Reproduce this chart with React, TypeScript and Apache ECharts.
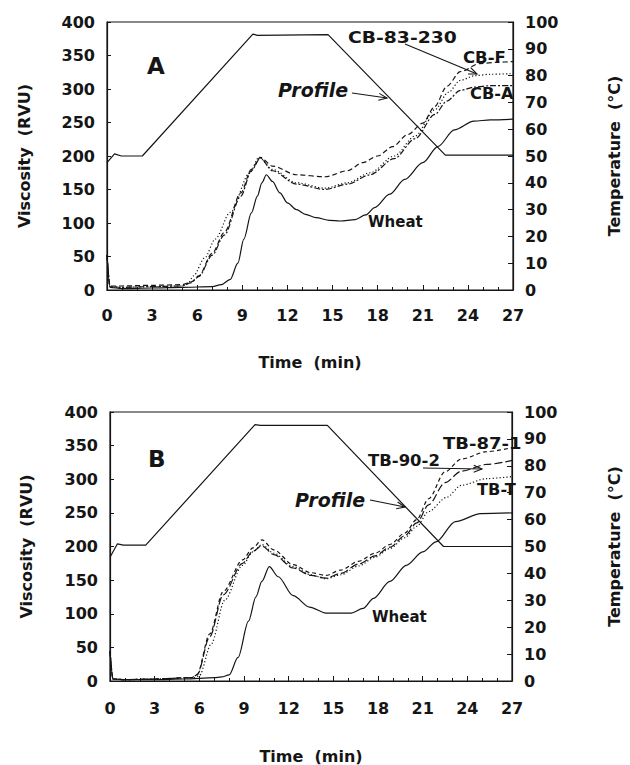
import React, { useEffect, useRef } from "react";
import * as echarts from "echarts";

// ---------- Tick labels ----------
const timeTicks = [0, 3, 6, 9, 12, 15, 18, 21, 24, 27];
const viscTicks = [0, 50, 100, 150, 200, 250, 300, 350, 400];
const tempTicks = [0, 10, 20, 30, 40, 50, 60, 70, 80, 90, 100];

// ---------- Panel A ----------
const profileA_t = [0, 0.5, 0.95, 2.35, 9.7, 10.0, 14.7, 22.5, 27];
const profileA_v = [47.5, 50.8, 50, 50, 95.5, 95, 95.3, 50.3, 50.3];

const wheatA_t = [0, 0.2, 1, 3, 5, 7, 7.6, 8.2, 8.7, 9.1, 9.6, 10, 10.3, 10.6, 11, 11.5, 12, 12.6, 13.2, 13.9, 14.8, 15.5, 16.5, 17.2, 17.8, 18.8, 19.8, 21, 22, 23.1, 24.4, 25.5, 27];
const wheatA_v = [52, 4, 2, 3, 4, 5, 8, 16, 40, 76, 115, 140, 160, 172, 162, 145, 130, 120, 113, 108, 104, 103, 105, 112, 123, 143, 165, 190, 214, 239, 252, 254, 255];

const cbF_t = [0, 0.2, 1, 3, 5, 5.6, 6.1, 7, 7.8, 8.9, 9.6, 10.2, 11, 12.6, 14.5, 16, 17, 18, 19, 20, 21, 21.8, 22.6, 23.5, 24.8, 26, 27];
const cbF_v = [52, 6, 6, 7, 8, 12, 21, 55, 86, 145, 180, 198, 185, 172, 169, 178, 190, 200, 214, 232, 249, 274, 304, 326, 338, 340, 341];

const cb83_t = [0, 0.2, 1, 3, 5, 5.4, 5.75, 6.5, 7.2, 8.2, 9.5, 10.1, 11, 12.6, 14.5, 16, 17.5, 19.1, 20.5, 21.8, 22.7, 23.5, 24.5, 25.5, 27];
const cb83_v = [52, 5, 4, 5, 6, 10, 21, 48, 76, 116, 175, 198, 180, 160, 152, 160, 175, 200, 230, 269, 295, 313, 320, 322, 323];

const cbA_t = [0, 0.2, 1, 3, 5, 5.6, 6.1, 7, 7.8, 8.9, 9.6, 10.2, 11, 12.6, 14.5, 16, 17.5, 19.1, 20.5, 21.8, 22.6, 23.5, 24.5, 25.5, 27];
const cbA_v = [52, 5, 4, 5, 6, 11, 20, 52, 82, 140, 178, 197, 178, 158, 150, 158, 172, 196, 226, 262, 282, 298, 303, 305, 305];

// ---------- Panel B ----------
const profileB_t = [0, 0.5, 0.9, 2.4, 9.74, 10.1, 14.6, 22.4, 27];
const profileB_v = [46, 51, 50.5, 50.5, 95.3, 95, 95, 50, 50];

const wheatB_t = [0, 0.2, 1, 3, 5, 7, 7.5, 8, 8.6, 9.3, 9.8, 10.2, 10.7, 11.3, 12.3, 13.4, 14.5, 16.2, 17, 17.7, 18.8, 19.9, 21, 21.9, 23.2, 24.9, 27];
const wheatB_v = [44, 3, 2, 2, 3, 5, 6, 9, 35, 89, 125, 148, 170, 155, 127, 110, 101, 101, 108, 123, 148, 172, 192, 207, 237, 249, 250];

const tb871_t = [0, 0.2, 1, 3, 5.5, 5.85, 6.7, 7.6, 8.9, 9.6, 10.2, 11, 12.3, 13.5, 14.5, 15.5, 16.7, 17.8, 18.8, 19.8, 20.6, 21.4, 22.5, 23.6, 25.3, 27];
const tb871_v = [44, 3, 2, 3, 5, 10, 70, 133, 180, 198, 210, 195, 173, 161, 157, 165, 178, 190, 203, 220, 240, 271, 311, 330, 341, 347];

const tb902_t = [0, 0.2, 1, 3, 5.5, 5.85, 6.7, 7.6, 8.9, 9.6, 10.2, 11, 12.3, 13.5, 14.5, 15.5, 16.7, 17.8, 18.8, 19.8, 20.6, 21.4, 22.5, 23.6, 25.3, 27];
const tb902_v = [44, 3, 2, 3, 5, 9, 66, 128, 175, 193, 201, 188, 168, 157, 153, 160, 174, 186, 199, 216, 235, 262, 295, 312, 322, 328];

const tbT_t = [0, 0.2, 1, 3, 5.7, 6.0, 6.8, 7.7, 8.9, 9.6, 10.2, 11, 12.3, 13.5, 14.5, 15.5, 16.7, 17.8, 18.8, 19.8, 20.6, 21.4, 22.6, 23.6, 25.3, 27];
const tbT_v = [44, 3, 2, 3, 5, 8, 55, 120, 172, 192, 203, 190, 170, 158, 152, 158, 171, 184, 197, 213, 230, 252, 273, 291, 301, 304];

// ---------- Styling ----------
const INK = "#151515";
const FONT = "'DejaVu Sans', 'Liberation Sans', Arial, sans-serif";

const pairs = (t: number[], v: number[]) => t.map((x, i) => [x, v[i]]);

function line(name: string, t: number[], v: number[], gi: number, yi: number, dash: any, smooth = true, width = 1.2) {
  return {
    type: "line",
    name,
    data: pairs(t, v),
    xAxisIndex: gi,
    yAxisIndex: yi,
    symbol: "none",
    showSymbol: false,
    smooth: smooth ? 0.3 : false,
    smoothMonotone: "x",
    silent: true,
    lineStyle: { color: INK, width, type: dash },
    z: 3,
  };
}

function xAxis(gi: number, labelMargin: number, nameGap: number) {
  return {
    type: "value",
    gridIndex: gi,
    min: timeTicks[0],
    max: timeTicks[timeTicks.length - 1],
    interval: timeTicks[1] - timeTicks[0],
    name: "Time  (min)",
    nameLocation: "middle",
    nameGap,
    nameTextStyle: { color: INK, fontFamily: FONT, fontWeight: "bold", fontSize: 16 },
    axisLine: { show: true, lineStyle: { color: INK, width: 1.2 } },
    axisTick: { show: true, inside: true, length: 5, lineStyle: { color: INK } },
    minorTick: { show: true, splitNumber: 3, length: 3, lineStyle: { color: INK } },
    splitLine: { show: false },
    axisLabel: { color: INK, fontFamily: FONT, fontWeight: "bold", fontSize: 16, margin: labelMargin },
  };
}

function yLeft(gi: number, nameGap: number) {
  return {
    type: "value",
    gridIndex: gi,
    position: "left",
    min: viscTicks[0],
    max: viscTicks[viscTicks.length - 1],
    interval: viscTicks[1] - viscTicks[0],
    name: "Viscosity  (RVU)",
    nameLocation: "middle",
    nameGap,
    nameTextStyle: { color: INK, fontFamily: FONT, fontWeight: "bold", fontSize: 16 },
    axisLine: { show: true, lineStyle: { color: INK, width: 1.2 } },
    axisTick: { show: true, inside: true, length: 4, lineStyle: { color: INK } },
    splitLine: { show: false },
    axisLabel: { color: INK, fontFamily: FONT, fontWeight: "bold", fontSize: 16, margin: 12 },
  };
}

function yRight(gi: number, nameGap: number) {
  return {
    type: "value",
    gridIndex: gi,
    position: "right",
    min: tempTicks[0],
    max: tempTicks[tempTicks.length - 1],
    interval: tempTicks[1] - tempTicks[0],
    name: "Temperature  (°C)",
    nameLocation: "middle",
    nameGap,
    nameTextStyle: { color: INK, fontFamily: FONT, fontWeight: "bold", fontSize: 16 },
    axisLine: { show: true, lineStyle: { color: INK, width: 1.2 } },
    axisTick: { show: true, inside: true, length: 5, lineStyle: { color: INK } },
    splitLine: { show: false },
    axisLabel: { color: INK, fontFamily: FONT, fontWeight: "bold", fontSize: 16, margin: 12 },
  };
}

function label(text: string, x: number, y: number, size: number, sx = 1, italic = false) {
  return {
    type: "text",
    x,
    y,
    scaleX: sx,
    silent: true,
    z: 10,
    style: {
      text,
      fill: INK,
      font: `${italic ? "italic " : ""}bold ${size}px ${FONT}`,
      align: "left",
      verticalAlign: "middle",
    },
  };
}

function arrow(x0: number, y0: number, x1: number, y1: number) {
  const ang = Math.atan2(y1 - y0, x1 - x0);
  const L = 9;
  const W = 0.4;
  const p1 = [x1 - L * Math.cos(ang - W), y1 - L * Math.sin(ang - W)];
  const p2 = [x1 - L * Math.cos(ang + W), y1 - L * Math.sin(ang + W)];
  return [
    { type: "line", silent: true, z: 10, shape: { x1: x0, y1: y0, x2: x1, y2: y1 }, style: { stroke: INK, lineWidth: 1.1 } },
    { type: "polyline", silent: true, z: 10, shape: { points: [p1, [x1, y1], p2] }, style: { stroke: INK, fill: null, lineWidth: 1.1 } },
  ];
}

export default function App() {
  const ref = useRef<HTMLDivElement>(null);

  useEffect(() => {
    if (!ref.current) return;
    const chart = echarts.init(ref.current, undefined, { renderer: "svg" });
    const gridStyle = { show: true, borderColor: INK, borderWidth: 1.2, backgroundColor: "transparent" };
    chart.setOption({
      animation: false,
      backgroundColor: "#ffffff",
      grid: [
        { left: 107, top: 22, width: 413, height: 268, ...gridStyle },
        { left: 110, top: 412, width: 416, height: 271, ...gridStyle },
      ],
      xAxis: [xAxis(0, 17, 64), xAxis(1, 19, 67)],
      yAxis: [yLeft(0, 75), yRight(0, 93), yLeft(1, 76), yRight(1, 94)],
      series: [
        line("Profile A", profileA_t, profileA_v, 0, 1, "solid", false),
        line("Wheat A", wheatA_t, wheatA_v, 0, 0, "solid"),
        line("CB-F", cbF_t, cbF_v, 0, 0, [5, 3]),
        line("CB-83-230", cb83_t, cb83_v, 0, 0, [1.2, 2.2]),
        line("CB-A", cbA_t, cbA_v, 0, 0, [6, 2, 2, 2]),
        line("Profile B", profileB_t, profileB_v, 1, 3, "solid", false),
        line("Wheat B", wheatB_t, wheatB_v, 1, 2, "solid"),
        line("TB-87-1", tb871_t, tb871_v, 1, 2, [4, 3]),
        line("TB-90-2", tb902_t, tb902_v, 1, 2, [8, 3]),
        line("TB-T", tbT_t, tbT_v, 1, 2, [1.2, 2.2]),
      ],
      graphic: [
        label("A", 147, 66, 23),
        label("Profile", 278, 90, 19, 1, true),
        ...arrow(352, 93, 387, 98),
        label("CB-83-230", 348, 38, 15, 1.25),
        ...arrow(405, 44, 477, 74),
        label("CB-F", 463, 58, 15, 1.1),
        label("CB-A", 470, 94, 15, 1.08),
        label("Wheat", 368, 222, 15),
        label("B", 148, 459, 23),
        label("Profile", 295, 500, 19, 1, true),
        ...arrow(370, 500, 405, 507),
        label("TB-87-1", 443, 444, 15, 1.2),
        label("TB-90-2", 368, 461, 15, 1.1),
        ...arrow(423, 468, 482, 469),
        label("TB-T", 477, 490, 15, 1.08),
        label("Wheat", 372, 617, 15),
      ],
    });
    return () => chart.dispose();
  }, []);

  return <div ref={ref} style={{ position: "absolute", left: 0, top: 0, width: 630, height: 765 }} />;
}
